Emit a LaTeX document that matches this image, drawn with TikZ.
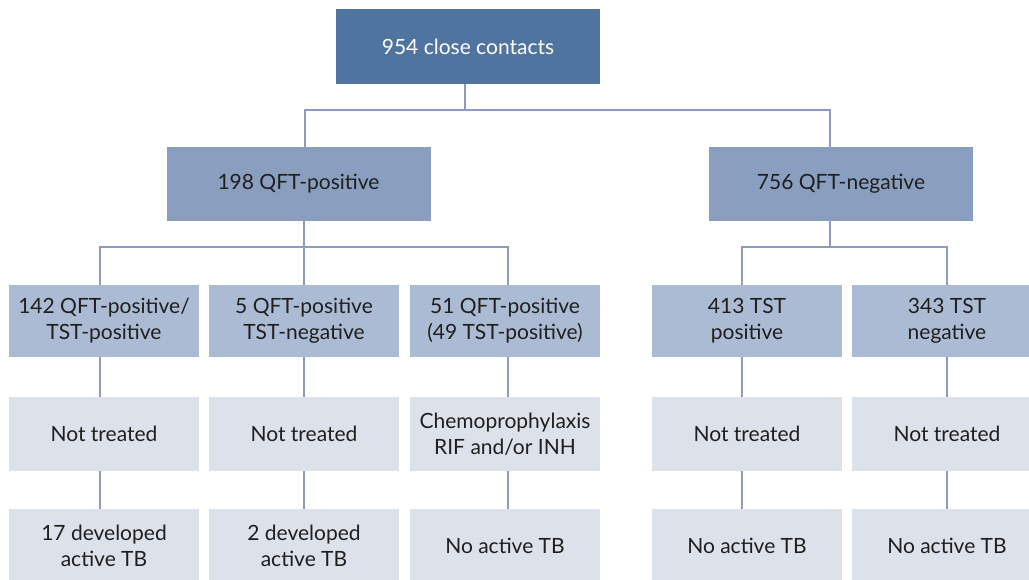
\documentclass[tikz,border=0pt]{standalone}
\usepackage{fontspec}
\setmainfont{Lato}
\definecolor{cTop}{HTML}{4F74A0}
\definecolor{cTwo}{HTML}{8A9FC0}
\definecolor{cThree}{HTML}{ACBBD4}
\definecolor{cFour}{HTML}{DCE1EA}
\definecolor{cLine}{HTML}{8D9CBD}
\begin{document}
\begin{tikzpicture}[x=1pt,y=-1pt,
  box/.style={inner sep=0pt,align=center,font=\fontsize{21}{26}\selectfont,text=black!88},
  topbox/.style={box,fill=cTop,text=white,minimum width=264pt,minimum height=75pt},
  twobox/.style={box,fill=cTwo,minimum width=264pt,minimum height=74pt},
  threebox/.style={box,fill=cThree,minimum width=190pt,minimum height=72pt},
  fourbox/.style={box,fill=cFour,minimum width=190pt,minimum height=74pt},
  fivebox/.style={box,fill=cFour,minimum width=190pt,minimum height=74pt},
  conn/.style={draw=cLine,line width=1.6pt}]
\useasboundingbox (0,0) rectangle (1029,579);
\fill[white] (0,0) rectangle (1029,579);
% nodes
\node[topbox] (top) at (468,46.5) {954 close contacts};
\node[twobox] (qp) at (298.5,184) {198 QFT-positive};
\node[twobox] (qn) at (841,184) {756 QFT-negative};
\node[threebox] (a3) at (104,321) {142 QFT-positive/\\TST-positive};
\node[threebox] (b3) at (304,321) {5 QFT-positive\\TST-negative};
\node[threebox] (c3) at (505,321) {51 QFT-positive\\(49 TST-positive)};
\node[threebox] (d3) at (747,321) {413 TST\\positive};
\node[threebox] (e3) at (947,321) {343 TST\\negative};
\node[fourbox] (a4) at (104,434) {Not treated};
\node[fourbox] (b4) at (304,434) {Not treated};
\node[fourbox] (c4) at (505,434) {Chemoprophylaxis\\RIF and/or INH};
\node[fourbox] (d4) at (747,434) {Not treated};
\node[fourbox] (e4) at (947,434) {Not treated};
\node[fivebox] (a5) at (104,546) {17 developed\\active TB};
\node[fivebox] (b5) at (304,546) {2 developed\\active TB};
\node[fivebox] (c5) at (505,546) {No active TB};
\node[fivebox] (d5) at (747,546) {No active TB};
\node[fivebox] (e5) at (947,546) {No active TB};
% junction coordinates
\coordinate (j1) at (465,110);
\coordinate (j2) at (304,247);
\coordinate (j3) at (830,247);
% connectors
\draw[conn] (j1 |- top.south) -- (j1);
\draw[conn] (j1) -| ([xshift=6.5pt]qp.north);
\draw[conn] (j1) -| ([xshift=-11pt]qn.north);
\draw[conn] (j2 |- qp.south) -- (j2);
\draw[conn] (j2) -| ([xshift=-4pt]a3.north);
\draw[conn] (j2) -- (j2 |- b3.north);
\draw[conn] (j2) -| ([xshift=3pt]c3.north);
\draw[conn] (j3 |- qn.south) -- (j3);
\draw[conn] (j3) -| ([xshift=-5pt]d3.north);
\draw[conn] (j3) -| (e3.north);
\foreach \n/\s in {a/-4,b/0,c/3,d/-5,e/0}{
  \draw[conn] ([xshift=\s pt]\n3.south) -- ([xshift=\s pt]\n4.north);
  \draw[conn] ([xshift=\s pt]\n4.south) -- ([xshift=\s pt]\n5.north);
}
\end{tikzpicture}
\end{document}
